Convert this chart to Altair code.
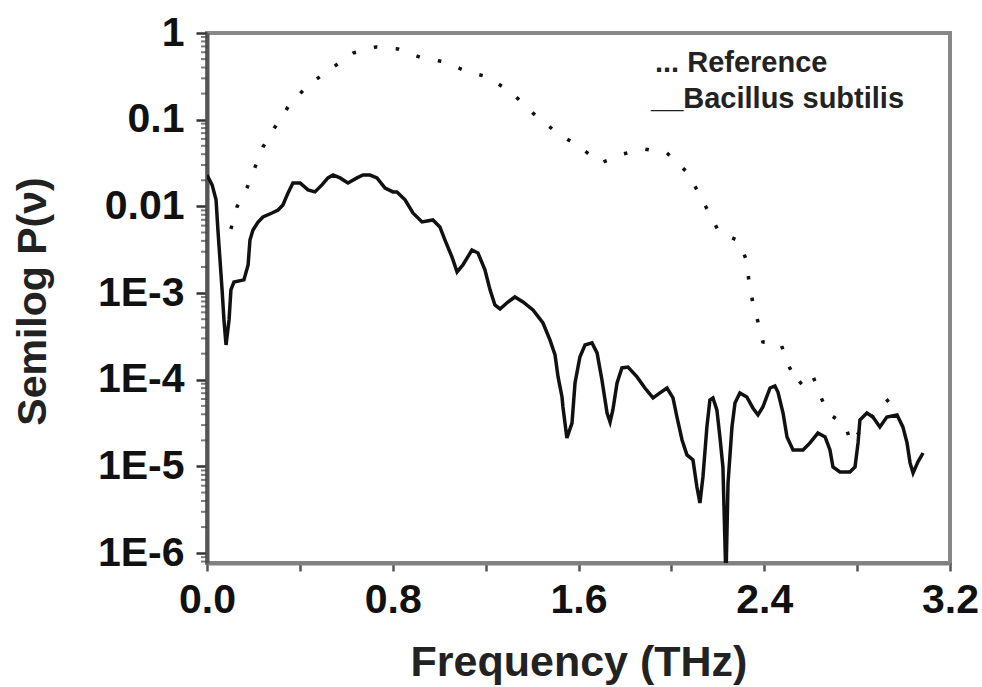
import altair as alt
import pandas as pd

# ---- data ----
bac_freq = [0.000, 0.022, 0.039, 0.047, 0.056, 0.065, 0.073, 0.082, 0.095, 0.103,
            0.116, 0.159, 0.177, 0.185, 0.198, 0.220, 0.241, 0.280, 0.306, 0.327,
            0.349, 0.370, 0.401, 0.435, 0.465, 0.495, 0.521, 0.543, 0.573, 0.607,
            0.646, 0.672, 0.702, 0.732, 0.767, 0.801, 0.818, 0.853, 0.887, 0.926,
            0.973, 1.003, 1.025, 1.055, 1.077, 1.102, 1.141, 1.167, 1.197, 1.219,
            1.240, 1.262, 1.296, 1.326, 1.361, 1.404, 1.447, 1.477, 1.499, 1.512,
            1.529, 1.533, 1.550, 1.572, 1.585, 1.606, 1.628, 1.658, 1.680, 1.701,
            1.723, 1.736, 1.748, 1.766, 1.787, 1.813, 1.852, 1.886, 1.921, 1.951,
            1.981, 2.007, 2.024, 2.046, 2.067, 2.093, 2.110, 2.123, 2.136, 2.153,
            2.166, 2.179, 2.196, 2.209, 2.222, 2.235, 2.244, 2.261, 2.274, 2.295,
            2.325, 2.351, 2.373, 2.394, 2.425, 2.446, 2.459, 2.481, 2.498, 2.524,
            2.567, 2.597, 2.631, 2.662, 2.683, 2.696, 2.726, 2.769, 2.791, 2.804,
            2.812, 2.842, 2.868, 2.898, 2.928, 2.972, 2.997, 3.015, 3.028, 3.041,
            3.062, 3.084]
bac_power = [2.30e-2, 1.77e-2, 1.19e-2, 5.35e-3, 2.41e-3, 1.09e-3, 4.9e-4, 2.52e-4, 4.9e-4, 1.09e-3,
             1.34e-3, 1.42e-3, 2.11e-3, 4.09e-3, 5.35e-3, 6.61e-3, 7.55e-3, 8.39e-3, 9.09e-3, 1.04e-2,
             1.43e-2, 1.86e-2, 1.86e-2, 1.55e-2, 1.47e-2, 1.77e-2, 2.13e-2, 2.30e-2, 2.13e-2, 1.86e-2,
             2.13e-2, 2.30e-2, 2.30e-2, 2.13e-2, 1.63e-2, 1.47e-2, 1.47e-2, 1.19e-2, 8.39e-3, 6.61e-3,
             6.97e-3, 5.79e-3, 4.09e-3, 2.61e-3, 1.75e-3, 2.11e-3, 3.14e-3, 2.90e-3, 1.85e-3, 1.09e-3,
             7.29e-4, 6.56e-4, 7.89e-4, 9.02e-4, 7.89e-4, 6.38e-4, 4.52e-4, 2.88e-4, 1.93e-4, 1.08e-4,
             6.33e-5, 4.85e-5, 2.13e-5, 3.17e-5, 9.18e-5, 1.83e-4, 2.52e-4, 2.66e-4, 2.04e-4, 9.95e-5,
             4.14e-5, 3.26e-5, 4.49e-5, 9.18e-5, 1.37e-4, 1.40e-4, 1.08e-4, 8.04e-5, 6.17e-5, 7.05e-5,
             8.04e-5, 6.17e-5, 3.72e-5, 2.02e-5, 1.36e-5, 1.19e-5, 5.8e-6, 3.79e-6, 7.57e-6, 2.86e-5,
             5.85e-5, 6.17e-5, 4.49e-5, 2.19e-5, 9.87e-6, 5.0e-7, 6.45e-6, 2.86e-5, 5.40e-5, 7.05e-5,
             6.33e-5, 4.73e-5, 3.93e-5, 4.85e-5, 8.04e-5, 8.49e-5, 7.23e-5, 4.14e-5, 2.19e-5, 1.55e-5,
             1.55e-5, 1.87e-5, 2.43e-5, 2.19e-5, 1.55e-5, 9.87e-6, 8.64e-6, 8.64e-6, 9.87e-6, 1.87e-5,
             3.44e-5, 4.14e-5, 3.72e-5, 2.86e-5, 3.72e-5, 3.93e-5, 2.86e-5, 1.87e-5, 1.10e-5, 8.41e-6,
             1.13e-5, 1.43e-5]

ref_freq = [0.103, 0.129, 0.172, 0.207, 0.241, 0.293, 0.349, 0.431, 0.538, 0.629,
            0.728, 0.823, 0.926, 1.025, 1.124, 1.210, 1.314, 1.404, 1.503, 1.598,
            1.697, 1.792, 1.882, 1.981, 2.067, 2.115, 2.158, 2.205, 2.291, 2.326,
            2.334, 2.351, 2.373, 2.394, 2.472, 2.502, 2.545, 2.605, 2.636, 2.674,
            2.748, 2.774, 2.833, 2.898, 2.954]
ref_power = [5.48e-3, 9.84e-3, 1.63e-2, 2.84e-2, 4.84e-2, 8.24e-2, 0.140, 0.245, 0.394, 0.587,
             0.690, 0.653, 0.515, 0.463, 0.355, 0.311, 0.203, 0.119, 7.21e-2, 4.98e-2,
             3.17e-2, 4.02e-2, 4.59e-2, 4.13e-2, 2.49e-2, 1.47e-2, 8.85e-3, 5.07e-3, 3.99e-3, 2.29e-3,
             1.34e-3, 7.69e-4, 4.65e-4, 2.73e-4, 2.59e-4, 1.52e-4, 8.71e-5, 1.20e-4, 7.05e-5, 4.14e-5,
             3.01e-5, 1.87e-5, 3.01e-5, 4.85e-5, 6.50e-5]

x_ticks = [0.0, 0.4, 0.8, 1.2, 1.6, 2.0, 2.4, 2.8, 3.2]
y_major = [1e-6, 1e-5, 1e-4, 1e-3, 1e-2, 1e-1, 1.0]
y_minor = [m * 10.0 ** e for e in range(-7, 0) for m in range(2, 10) if 7.7e-7 <= m * 10.0 ** e < 1]
legend_labels = ["... Reference", "__Bacillus subtilis"]

FONT = "Liberation Sans"

bac = pd.DataFrame({"f": bac_freq, "p": bac_power})
ref = pd.DataFrame({"f": ref_freq, "p": ref_power})

xscale = alt.Scale(domain=[0, 3.2], nice=False, zero=False)
yscale = alt.Scale(type="log", domain=[7.7e-7, 1], nice=False)

x_axis = alt.Axis(
    title="Frequency (THz)", values=x_ticks,
    labelExpr="(round(datum.value*10) % 8 == 0) ? format(datum.value, '.1f') : ''",
    labelFlush=False, labelOverlap=False, grid=False,
    tickSize=8, tickWidth=2.5, tickColor="#555",
    domainColor="#808080", domainWidth=4,
    labelFont=FONT, labelFontSize=41, labelFontWeight="bold", labelColor="#111",
    labelBaseline="alphabetic", labelPadding=41,
    titleFont=FONT, titleFontSize=43, titleFontWeight="bold", titleColor="#222",
    titleX=371.5, titleY=112, titleBaseline="alphabetic", titleAlign="center",
)
y_axis = alt.Axis(
    title="Semilog P(ν)", values=y_major,
    labelExpr="datum.value >= 0.5 ? '1' : datum.value >= 0.05 ? '0.1' : datum.value >= 0.005 ? '0.01' : '1E-' + round(-log(datum.value)/LN10)",
    labelFlush=False, labelOverlap=False, grid=False,
    tickSize=11, tickWidth=2.5, tickColor="#333",
    domainColor="#555", domainWidth=4,
    labelFont=FONT, labelFontSize=41, labelFontWeight="bold", labelColor="#111",
    labelBaseline="middle", labelPadding=12,
    titleFont=FONT, titleFontSize=41, titleFontWeight="bold", titleColor="#222",
    titleX=-162, titleY=268, titleAngle=-90, titleBaseline="alphabetic", titleAlign="center",
)

bac_line = alt.Chart(bac).mark_line(color="#111", strokeWidth=3.5, clip=True).encode(
    x=alt.X("f:Q", scale=xscale, axis=x_axis),
    y=alt.Y("p:Q", scale=yscale, axis=y_axis),
)

ref_line = alt.Chart(ref).mark_line(
    color="#111", strokeWidth=3.5, strokeDash=[3.5, 18.5], strokeCap="butt", clip=True
).encode(
    x=alt.X("f:Q", scale=xscale),
    y=alt.Y("p:Q", scale=yscale),
)

minor = alt.Chart(pd.DataFrame({"v": y_minor})).mark_tick(
    orient="horizontal", size=6, thickness=2, color="#444"
).encode(
    y=alt.Y("v:Q", scale=yscale),
    x=alt.value(-3),
)

leg_ref = alt.Chart(pd.DataFrame({"t": [legend_labels[0]]})).mark_text(
    align="left", baseline="alphabetic", font=FONT, fontSize=29, fontWeight="bold", color="#222"
).encode(text="t:N", x=alt.value(448), y=alt.value(39))

leg_bac = alt.Chart(pd.DataFrame({"t": [legend_labels[1]]})).mark_text(
    align="left", baseline="alphabetic", font=FONT, fontSize=29, fontWeight="bold", color="#222"
).encode(text="t:N", x=alt.value(444), y=alt.value(75))

chart = alt.layer(bac_line, ref_line, minor, leg_ref, leg_bac).properties(
    width=743, height=530,
    padding={"left": 207, "top": 33, "right": 32, "bottom": 124},
    autosize=alt.AutoSizeParams(type="none"),
    background="white",
).configure_view(stroke="#888888", strokeWidth=4)

chart.save("out.html", embed_options={"renderer": "svg", "actions": False})
